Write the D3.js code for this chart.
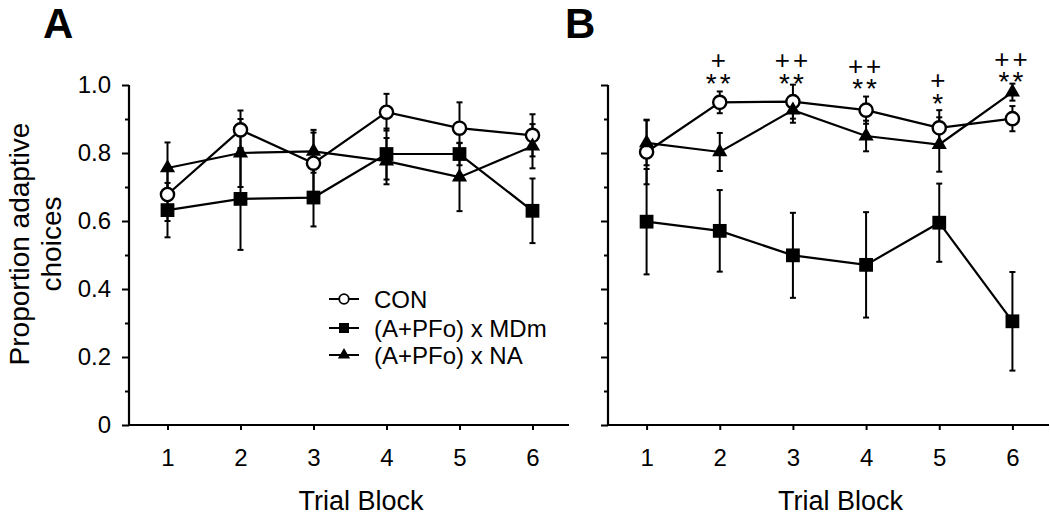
<!DOCTYPE html>
<html><head><meta charset="utf-8">
<script src="https://cdn.jsdelivr.net/npm/d3@7"></script>
<style>body{margin:0;background:#fff} svg{display:block} text{font-family:"Liberation Sans",Arial,sans-serif;fill:#000}</style>
</head><body><svg id="c" width="1050" height="519"></svg>
<script>
const blocks = [1,2,3,4,5,6];
const seriesNames = ["CON","(A+PFo) x MDm","(A+PFo) x NA"];
const aCON = [0.678,0.868,0.77,0.92,0.873,0.852];
const aCONerr = [0.078,0.057,0.09,0.054,0.076,0.062];
const aMDm = [0.632,0.665,0.669,0.797,0.797,0.63];
const aMDmErr = [0.08,0.15,0.085,0.075,0.033,0.095];
const aNA = [0.756,0.80,0.805,0.776,0.729,0.82];
const aNAerr = [0.075,0.10,0.063,0.068,0.10,0.065];
const bCON = [0.803,0.949,0.951,0.926,0.874,0.901];
const bCONerr = [0.095,0.032,0.05,0.04,0.052,0.037];
const bMDm = [0.598,0.571,0.499,0.471,0.595,0.305];
const bMDmErr = [0.155,0.12,0.125,0.155,0.115,0.145];
const bNA = [0.83,0.803,0.926,0.85,0.825,0.979];
const bNAerr = [0.066,0.056,0.037,0.045,0.08,0.025];
const xTickLabels = ["1","2","3","4","5","6"];
const yTicks = [0,0.2,0.4,0.6,0.8,1.0];
const yTickLabels = ["0","0.2","0.4","0.6","0.8","1.0"];
const yMinorTicks = [0.1,0.3,0.5,0.7,0.9];
const sigPlus = ["","+","++","++","+","++"];
const sigStar = ["","**","**","**","*","**"];
const sigLevel = [null,1.024,1.025,1.008,0.965,1.028];

const svg = d3.select("#c");
const y = d3.scaleLinear().domain([0,1]).range([425,85]);
const xA = d3.scaleLinear().domain([0.5,6.5]).range([131,569]);
const xB = d3.scaleLinear().domain([0.5,6.5]).range([610,1049]);

const shapes = ["circle","square","triangle"];
function marker(sel, shape, big){
  if(shape==="circle"){
    sel.append("circle").attr("r", big?6.6:4.8).attr("fill","#fff").attr("stroke","#000").attr("stroke-width", big?2.4:1.8);
  } else if(shape==="square"){
    sel.append("path").attr("d", d3.symbol(d3.symbolSquare, big?190:100)()).attr("fill","#000");
  } else {
    sel.append("path").attr("d", d3.symbol(d3.symbolTriangle, big?100:65)()).attr("fill","#000");
  }
}

function panel(x, series, showLabels, axisX){
  const g = svg.append("g");
  const ya = g.append("g").attr("transform",`translate(${axisX},0)`)
    .call(d3.axisLeft(y).tickValues(yTicks).tickSize(7).tickSizeOuter(0).tickPadding(11)
      .tickFormat((d,i)=> showLabels ? yTickLabels[i] : ""));
  ya.select(".domain").remove();
  ya.selectAll("line").attr("stroke-width",2);
  ya.selectAll("text").attr("font-size",24).attr("font-family","Liberation Sans, Arial, sans-serif");
  const ym = g.append("g").attr("transform",`translate(${axisX},0)`)
    .call(d3.axisLeft(y).tickValues(yMinorTicks).tickSize(4).tickFormat(""));
  ym.select(".domain").remove();
  ym.selectAll("line").attr("stroke-width",2);
  const xa = g.append("g").attr("transform",`translate(0,${y(0)})`)
    .call(d3.axisBottom(x).tickValues(blocks).tickSize(5).tickSizeOuter(0).tickPadding(19)
      .tickFormat((d,i)=>xTickLabels[i]));
  xa.select(".domain").remove();
  xa.selectAll("line").attr("stroke-width",2);
  xa.selectAll("text").attr("font-size",24).attr("font-family","Liberation Sans, Arial, sans-serif");
  g.append("line").attr("x1",axisX).attr("x2",axisX).attr("y1",y(1)).attr("y2",y(0)+1).attr("stroke","#000").attr("stroke-width",2.2);
  g.append("line").attr("x1",axisX).attr("x2",x.range()[1]).attr("y1",y(0)).attr("y2",y(0)).attr("stroke","#000").attr("stroke-width",2.2);
  g.append("text").attr("x",(x.range()[0]+x.range()[1])/2+11).attr("y",510)
    .attr("text-anchor","middle").attr("font-size",27).text("Trial Block");

  const order = [1,0,2];
  order.forEach(si=>{
    const s = series[si];
    s.vals.forEach((v,i)=>{
      const cx = x(blocks[i]), e = s.err[i];
      const eg = g.append("g").attr("stroke","#000").attr("stroke-width",2);
      eg.append("line").attr("x1",cx).attr("x2",cx).attr("y1",y(v-e)).attr("y2",y(v+e));
      eg.append("line").attr("x1",cx-3).attr("x2",cx+3).attr("y1",y(v-e)).attr("y2",y(v-e));
      eg.append("line").attr("x1",cx-3).attr("x2",cx+3).attr("y1",y(v+e)).attr("y2",y(v+e));
    });
  });
  order.forEach(si=>{
    const s = series[si];
    const line = d3.line().x((d,i)=>x(blocks[i])).y(d=>y(d));
    g.append("path").attr("d",line(s.vals)).attr("fill","none").attr("stroke","#000").attr("stroke-width",2.2);
  });
  order.forEach(si=>{
    const s = series[si];
    s.vals.forEach((v,i)=>{
      const mg = g.append("g").attr("transform",`translate(${x(blocks[i])},${y(v)})`);
      marker(mg, shapes[si], true);
    });
  });
  return g;
}

panel(xA, [{vals:aCON,err:aCONerr},{vals:aMDm,err:aMDmErr},{vals:aNA,err:aNAerr}], true, 129);
panel(xB, [{vals:bCON,err:bCONerr},{vals:bMDm,err:bMDmErr},{vals:bNA,err:bNAerr}], false, 608);

// significance marks: one two-line text per block
blocks.forEach((b,i)=>{
  if(sigLevel[i]==null) return;
  const cx = xB(b), cy = y(sigLevel[i]);
  const t = svg.append("text").attr("text-anchor","middle");
  t.append("tspan").attr("x",cx).attr("y",cy-7.5).attr("font-size",26).attr("letter-spacing",3).text(sigPlus[i]);
  t.append("tspan").attr("x",cx).attr("y",cy+16).attr("font-size",28).attr("letter-spacing",3).text(sigStar[i]);
});

// y title
svg.append("text").attr("transform","translate(29,244) rotate(-90)").attr("text-anchor","middle").attr("font-size",28).text("Proportion adaptive");
svg.append("text").attr("transform","translate(61,244) rotate(-90)").attr("text-anchor","middle").attr("font-size",28).text("choices");

// panel letters
svg.append("text").attr("x",43).attr("y",38).attr("font-size",42).attr("font-weight","bold").text("A");
svg.append("text").attr("x",565).attr("y",38).attr("font-size",42).attr("font-weight","bold").text("B");

// legend
const legY = [299,328,355];
seriesNames.forEach((n,i)=>{
  const lg = svg.append("g");
  lg.append("line").attr("x1",329).attr("x2",359).attr("y1",legY[i]).attr("y2",legY[i]).attr("stroke","#000").attr("stroke-width",2);
  const mg = lg.append("g").attr("transform",`translate(344,${legY[i]})`);
  marker(mg, shapes[i], false);
  lg.append("text").attr("x",374).attr("y",legY[i]).attr("dy","0.36em").attr("font-size",24).text(n);
});
</script></body></html>
